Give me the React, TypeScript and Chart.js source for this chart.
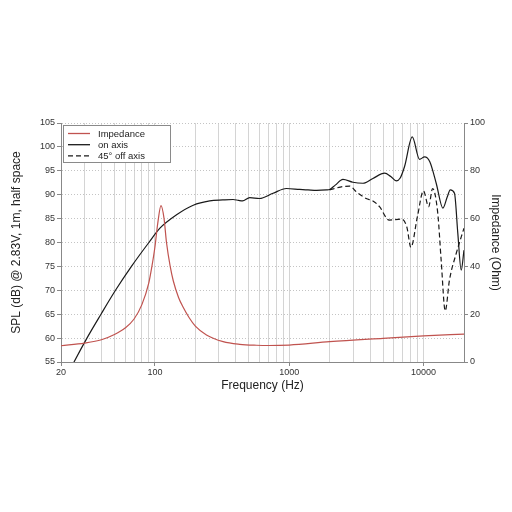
import React, { useEffect, useRef } from "react";
import { Chart, registerables } from "chart.js";

Chart.register(...registerables);

// Frequency grid ticks (Hz)
const xGridTicks = [
  20, 30, 40, 50, 60, 70, 80, 90, 100, 200, 300, 400, 500, 600, 700, 800, 900,
  1000, 2000, 3000, 4000, 5000, 6000, 7000, 8000, 9000, 10000, 20000,
];
const xLabelTicks = [20, 100, 1000, 10000];

// Impedance (Ohm)
const impFreq = [
  20, 30, 40, 50, 60, 70, 80, 90, 95, 100, 105, 111, 117, 122, 130, 137, 150,
  162, 180, 200, 242, 322, 428, 570, 700, 1000, 2000, 5000, 10000, 20000,
];
const impValues = [
  6.8, 7.9, 9.3, 11.5, 14.2, 18, 24, 33, 40, 48, 58, 65.4, 60, 50, 40, 34,
  27, 23, 18.5, 15, 11.3, 8.5, 7.4, 7.0, 6.9, 7.1, 8.5, 9.9, 10.9, 11.7,
];

// On-axis SPL (dB)
const onFreq = [
  20, 25, 31.2, 39.7, 50.9, 66.9, 90.2, 109, 145, 193, 256, 320, 382, 420, 449,
  508, 600, 758, 953, 1197, 1380, 1600, 1890, 2000, 2200, 2512, 2978, 3540,
  4197, 5130, 5700, 6260, 6700, 7220, 8240, 9330, 10170, 11130, 12420, 13930,
  15000, 15800, 16990, 17990, 19060, 20000,
];
const onValues = [
  49.6, 55, 60, 65, 70, 75, 80, 83, 85.8, 87.8, 88.7, 88.9, 89.0, 88.8, 88.7,
  89.4, 89.2, 90.3, 91.3, 91.1, 91.0, 90.9, 91.0, 91.1, 92, 93.2, 92.6, 92.4,
  93.4, 94.5, 93.8, 92.9, 93.5, 95.9, 102.1, 97.4, 97.9, 96.9, 92.4, 87.2,
  89.5, 91.0, 90.3, 81.9, 74.2, 78.4,
];

// 45° off-axis SPL (dB)
const offFreq = [
  2000, 2400, 2820, 3160, 3740, 4200, 4700, 5540, 6850, 7500, 8050, 9000, 9980,
  10900, 11680, 12760, 13520, 14500, 15600, 17500, 20000,
];
const offValues = [
  91.0, 91.6, 91.8, 90.6, 89.2, 88.7, 87.5, 84.7, 84.9, 83.3, 79.0, 85.4, 90.8,
  87.5, 91.3, 86.1, 76.3, 65.7, 72.2, 77.7, 83.0,
];

const seriesNames = ["Impedance", "on axis", "45° off axis"];

const FONT = "'Liberation Sans', Arial, sans-serif";
const RED = "#c0534f";
const BLACK = "#1a1a1a";

const pairs = (xs: number[], ys: number[]) => xs.map((x, i) => ({ x, y: ys[i] }));

const insideLegend = {
  id: "insideLegend",
  afterDraw(chart: any) {
    const { ctx, chartArea } = chart;
    const x0 = chartArea.left + 2;
    const y0 = chartArea.top + 2;
    const w = 107;
    const h = 37;
    ctx.save();
    ctx.fillStyle = "#ffffff";
    ctx.fillRect(x0, y0, w, h);
    ctx.strokeStyle = "#8a8a8a";
    ctx.lineWidth = 1;
    ctx.strokeRect(x0 + 0.5, y0 + 0.5, w, h);
    ctx.font = `9.5px ${FONT}`;
    ctx.textBaseline = "middle";
    chart.data.datasets.forEach((ds: any, i: number) => {
      const y = y0 + 8.5 + i * 11.2;
      ctx.beginPath();
      ctx.strokeStyle = ds.borderColor;
      ctx.lineWidth = 1.3;
      ctx.setLineDash(ds.borderDash || []);
      ctx.moveTo(x0 + 5, y);
      ctx.lineTo(x0 + 27, y);
      ctx.stroke();
      ctx.setLineDash([]);
      ctx.fillStyle = "#222";
      ctx.fillText(ds.label, x0 + 35, y + 0.5);
    });
    ctx.restore();
  },
};

export default function App() {
  const ref = useRef<HTMLCanvasElement | null>(null);

  useEffect(() => {
    if (!ref.current) return;
    const chart = new Chart(ref.current, {
      type: "line",
      data: {
        datasets: [
          {
            label: seriesNames[0],
            data: pairs(impFreq, impValues),
            yAxisID: "y1",
            borderColor: RED,
            borderWidth: 1.2,
            pointRadius: 0,
            cubicInterpolationMode: "monotone",
          },
          {
            label: seriesNames[1],
            data: pairs(onFreq, onValues),
            yAxisID: "y",
            borderColor: BLACK,
            borderWidth: 1.2,
            pointRadius: 0,
            cubicInterpolationMode: "monotone",
          },
          {
            label: seriesNames[2],
            data: pairs(offFreq, offValues),
            yAxisID: "y",
            borderColor: BLACK,
            borderWidth: 1.2,
            borderDash: [5, 3],
            pointRadius: 0,
            cubicInterpolationMode: "monotone",
          },
        ],
      },
      options: {
        animation: false,
        responsive: false,
        maintainAspectRatio: false,
        layout: { padding: { top: 123, bottom: 110, left: 0, right: 0 } },
        plugins: { legend: { display: false }, tooltip: { enabled: false } },
        scales: {
          x: {
            type: "logarithmic",
            min: 20,
            max: 20000,
            afterBuildTicks: (scale: any) => {
              scale.ticks = xGridTicks.map((v) => ({ value: v }));
            },
            afterFit: (scale: any) => {
              scale.height = 40;
            },
            ticks: {
              autoSkip: false,
              maxRotation: 0,
              padding: 1,
              color: "#333",
              font: { family: FONT, size: 9 },
              callback: (v: any) => (xLabelTicks.includes(Number(v)) ? String(v) : ""),
            },
            grid: {
              color: "#d4d4d4",
              lineWidth: 1,
              tickLength: 4,
              tickColor: (c: any) =>
                c.tick && xLabelTicks.includes(c.tick.value) ? "#888" : "rgba(0,0,0,0)",
            },
            border: { color: "#888" },
            title: {
              display: true,
              text: "Frequency (Hz)",
              color: "#222",
              font: { family: FONT, size: 12 },
              padding: { top: 0, bottom: 9 },
            },
          },
          y: {
            type: "linear",
            position: "left",
            min: 55,
            max: 105,
            afterFit: (scale: any) => {
              scale.width = 61;
            },
            ticks: {
              stepSize: 5,
              padding: 2,
              color: "#333",
              font: { family: FONT, size: 9 },
            },
            grid: {
              color: "#c4c4c4",
              lineWidth: 1,
              tickLength: 4,
              tickColor: "#888",
            },
            border: { color: "#888", dash: [1, 2] },
            title: {
              display: true,
              text: "SPL (dB) @ 2.83V, 1m, half space",
              color: "#222",
              font: { family: FONT, size: 12 },
              padding: { top: 9, bottom: 0 },
            },
          },
          y1: {
            type: "linear",
            position: "right",
            min: 0,
            max: 100,
            afterFit: (scale: any) => {
              scale.width = 48;
            },
            ticks: {
              stepSize: 20,
              padding: 2,
              color: "#333",
              font: { family: FONT, size: 9 },
            },
            grid: {
              drawOnChartArea: false,
              tickLength: 4,
              tickColor: "#888",
            },
            border: { color: "#888" },
            title: {
              display: true,
              text: "Impedance (Ohm)",
              color: "#222",
              font: { family: FONT, size: 12 },
              padding: { top: 9, bottom: 0 },
            },
          },
        },
      },
      plugins: [insideLegend],
    } as any);
    return () => chart.destroy();
  }, []);

  return (
    <div style={{ position: "fixed", left: 0, top: 0, width: 512, height: 512, background: "#fff" }}>
      <canvas ref={ref} width={512} height={512} style={{ width: 512, height: 512 }} />
    </div>
  );
}
